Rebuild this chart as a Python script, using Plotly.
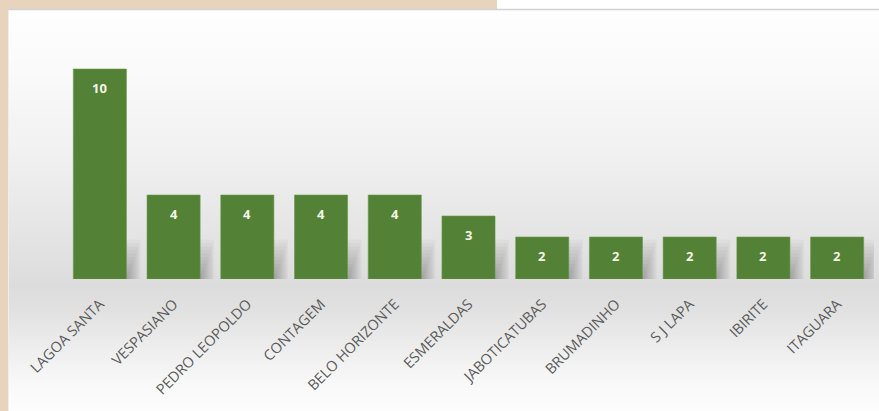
import plotly.graph_objects as go

# Municipalities and their counts
cidades = ["LAGOA SANTA", "VESPASIANO", "PEDRO LEOPOLDO", "CONTAGEM", "BELO HORIZONTE",
           "ESMERALDAS", "JABOTICATUBAS", "BRUMADINHO", "S J LAPA", "IBIRITE", "ITAGUARA"]
quantidades = [10, 4, 4, 4, 4, 3, 2, 2, 2, 2, 2]

W, H = 879, 411
ML, MR, MT, MB = 63, 5, 10, 132
PW, PH = W - ML - MR, H - MT - MB


def px(x):
    return (x - ML) / PW


def py(y):
    return (H - MB - y) / PH


def gray_at(y):
    # vertical background shading: light at top, darkest near the baseline, fading out below
    stops = [(10, 254), (70, 250), (150, 241), (230, 229), (285, 220), (310, 225),
             (350, 238), (385, 249), (411, 253)]
    for (y0, g0), (y1, g1) in zip(stops, stops[1:]):
        if y0 <= y <= y1:
            t = (y - y0) / (y1 - y0)
            return round(g0 + (g1 - g0) * t)
    return 253


shapes = []
# beige frame
shapes.append(dict(type="rect", xref="paper", yref="paper", x0=px(0), x1=px(W), y0=py(H), y1=py(0),
                   fillcolor="#e8d4bd", line_width=0, layer="below"))
shapes.append(dict(type="rect", xref="paper", yref="paper", x0=px(497), x1=px(W), y0=py(10), y1=py(0),
                   fillcolor="#ffffff", line_width=0, layer="below"))
# gradient panel
step = 2
for y in range(10, H, step):
    g = gray_at(y + step / 2)
    shapes.append(dict(type="rect", xref="paper", yref="paper", x0=px(8), x1=px(W),
                       y0=py(y + step), y1=py(y), fillcolor=f"rgb({g},{g},{g})",
                       line_width=0, layer="below"))
# thin border line along top of panel
shapes.append(dict(type="line", xref="paper", yref="paper", x0=px(8), x1=px(W), y0=py(9.5), y1=py(9.5),
                   line=dict(color="#d2d2d2", width=1.5), layer="below"))
shapes.append(dict(type="line", xref="paper", yref="paper", x0=px(8.5), x1=px(8.5), y0=py(H), y1=py(10),
                   line=dict(color="#eeeeee", width=1), layer="below"))

# soft drop shadows at the lower right of each bar (stacked translucent layers)
n_layers = 12
for i, v in enumerate(quantidades):
    top = min(v, 2.0)
    for k in range(n_layers):
        f = (k + 1) / n_layers
        shapes.append(dict(type="rect", xref="x", yref="y",
                           x0=i + 0.30, x1=i + 0.36 + 0.20 * (1 - f) + 0.01,
                           y0=0, y1=top * (1 - f) + 0.05,
                           fillcolor="#000000", opacity=0.022, line_width=0, layer="below"))

fig = go.Figure(go.Bar(
    x=cidades, y=quantidades,
    marker=dict(color="#538135", line=dict(color="#6a9a48", width=0.6)),
    hoverinfo="x+y",
))

# value labels just inside the top of each bar
for c, v in zip(cidades, quantidades):
    fig.add_annotation(x=c, y=v, text=f"<b>{v}</b>", showarrow=False, yshift=-19,
                       font=dict(color="#f4f4e6", size=13, family="Open Sans"))

fig.update_layout(
    width=W, height=H,
    margin=dict(l=ML, r=MR, t=MT, b=MB),
    paper_bgcolor="#ffffff", plot_bgcolor="rgba(0,0,0,0)",
    bargap=0.28, showlegend=False, shapes=shapes,
    xaxis=dict(tickangle=-45, tickfont=dict(family="Open Sans", size=14.5, color="#5a5a5a"),
               showgrid=False, showline=False, ticks="", range=[-0.5, 10.5],
               ticklabelstandoff=13),
    yaxis=dict(visible=False, range=[0, PH / 21], showgrid=False),
)

fig.write_html("out.html")
